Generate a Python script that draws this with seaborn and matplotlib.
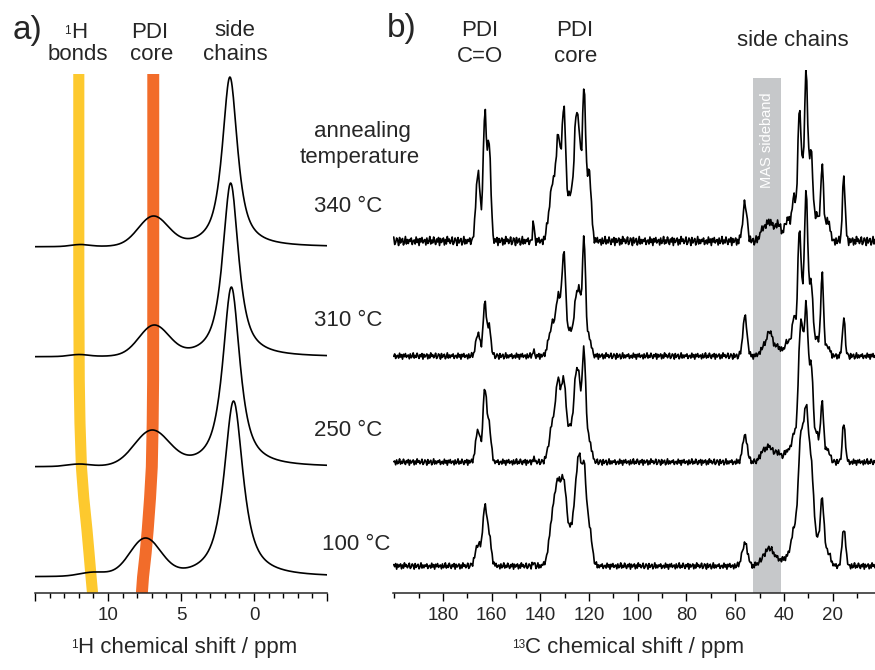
import numpy as np
import matplotlib
matplotlib.use("Agg")
import matplotlib.pyplot as plt
from matplotlib.ticker import MultipleLocator, FixedLocator
import seaborn as sns

# ---- data (heights in px above each trace's baseline) ----
temps = ["340 °C", "310 °C", "250 °C", "100 °C"]

# panel a: 1H spectra, three lines each
h1_side_ppm = [1.65, 1.6, 1.55, 1.4]
h1_side_height = [170, 174, 180, 176]
h1_side_fwhm = [1.25, 1.3, 1.4, 1.55]
h1_core_ppm = [6.9, 6.85, 7.0, 7.45]
h1_core_height = [31, 32, 37, 39]
h1_core_fwhm = [2.4, 2.4, 2.8, 2.5]
h1_hb_ppm = [11.9, 12.0, 12.0, 11.0]
h1_hb_height = [2.5, 2.5, 3, 5]
h1_hb_fwhm = [1.5, 1.5, 1.8, 2.2]
h1_offsets = [346, 236, 126, 16]

# guide bands in panel a: (height, ppm) along the band
band_y = [519, 300, 213, 170, 126, 95, 63, 40, 16, 0]
hbond_band_ppm = [12.0, 12.0, 11.97, 11.92, 11.82, 11.66, 11.44, 11.3, 11.16, 11.06]
core_band_ppm = [6.9, 6.9, 6.91, 6.94, 7.0, 7.12, 7.28, 7.42, 7.6, 7.68]

# panel b: 13C spectra, peak list shared, heights per temperature
c13_ppm = [165.6, 162.8, 161.0, 142.8, 136.5, 134.8, 132.7, 130.4, 127.6,
           125.4, 124.0, 122.1, 120.0, 56.0, 48.5, 45.8, 42.5, 38.5, 35.8,
           33.7, 32.6, 30.9, 28.8, 26.4, 24.3, 22.0, 15.4]
c13_fwhm = [2.0, 1.6, 1.6, 0.8, 2.2, 2.2, 2.0, 2.0, 2.6,
            1.8, 1.6, 1.6, 2.0, 2.0, 2.8, 2.8, 2.8, 2.8, 2.0,
            1.5, 1.4, 1.7, 1.8, 1.8, 1.4, 2.0, 1.3]
c13_h_340 = [70, 131, 100, 19, 30, 62, 108, 134, 50,
             126, 112, 156, 72, 38, 14, 20, 18, 22, 45,
             131, 86, 170, 91, 28, 78, 22, 65]
c13_h_310 = [23, 54, 30, 5, 18, 35, 62, 104, 27,
             60, 68, 120, 20, 40, 10, 25, 10, 15, 40,
             128, 78, 167, 76, 19, 82, 10, 38]
c13_h_250 = [32, 75, 40, 3, 20, 45, 85, 85, 38,
             90, 85, 114, 25, 27, 12, 15, 10, 12, 30,
             115, 140, 160, 100, 29, 60, 12, 39]
c13_h_100 = [22, 60, 34, 3, 25, 60, 88, 88, 40,
             85, 112, 105, 45, 23, 10, 18, 8, 11, 40,
             110, 140, 163, 110, 30, 68, 15, 38]
c13_broadening = [1.0, 1.0, 1.1, 1.3]
c13_offsets = [352, 237, 131, 27]
c13_noise = [5.0, 3.5, 3.5, 3.5]
noise_shift = [0, 17, 31, 44]
ripple = [0.3, -0.6, 0.9, -0.2, -0.8, 0.5, 0.1, -0.4, 0.7, -0.9,
          0.2, 0.6, -0.3, -0.7, 0.8, 0.0, -0.5, 0.4, -0.1, 0.9,
          -0.6, 0.3, -0.8, 0.6, 0.1, -0.3, 0.5, -0.9, 0.7, -0.2,
          0.4, -0.7, 0.0, 0.8, -0.4, 0.2, -0.6, 0.9, -0.1, -0.5,
          0.6, -0.8, 0.3, 0.1, -0.4, 0.7, -0.2, 0.5, -0.9, 0.4,
          -0.3, 0.8, -0.6, 0.2, 0.0, -0.7, 0.6, -0.1, 0.3, -0.5]


def shape(x, c, w, eta):
    u = (x - c) / w
    return eta / (1 + 4 * u**2) + (1 - eta) * np.exp(-4 * np.log(2) * u**2)


def spectrum(x, centers, heights, widths, eta):
    # amplitudes chosen so the trace passes through the read heights
    c = np.asarray(centers, float)
    w = np.asarray(widths, float)
    e = np.asarray(eta, float)
    m = shape(c[:, None], c[None, :], w[None, :], e[None, :])
    amp = np.linalg.solve(m, np.asarray(heights, float))
    return (shape(x[:, None], c[None, :], w[None, :], e[None, :]) * amp).sum(1)


sns.set_style("ticks")
plt.rcParams["font.family"] = ["Liberation Sans", "DejaVu Sans"]

W, H = 875, 670
fig = plt.figure(figsize=(W / 100, H / 100), dpi=100)
ax_a = fig.add_axes([35 / W, 77 / H, 292 / W, 523 / H])
ax_b = fig.add_axes([393 / W, 77 / H, 482 / W, 523 / H])

# ---- panel a ----
x_h = np.linspace(-5, 15, 500)
for i in range(4):
    y = spectrum(x_h,
                 [h1_side_ppm[i], h1_core_ppm[i], h1_hb_ppm[i]],
                 [h1_side_height[i], h1_core_height[i], h1_hb_height[i]],
                 [h1_side_fwhm[i], h1_core_fwhm[i], h1_hb_fwhm[i]],
                 [0.85, 0.0, 0.0])
    sns.lineplot(x=x_h, y=h1_offsets[i] + y, ax=ax_a, color="black",
                 linewidth=1.2, sort=False, zorder=3)

ax_a.plot(hbond_band_ppm, band_y, color="#FDC92E", lw=8.0,
          solid_capstyle="butt", solid_joinstyle="round", zorder=1)
ax_a.plot(core_band_ppm, band_y, color="#F26C2A", lw=8.6,
          solid_capstyle="butt", solid_joinstyle="round", zorder=2)

ax_a.set_xlim(15, -5)
ax_a.set_ylim(0, 523)
ax_a.xaxis.set_major_locator(FixedLocator([15, 10, 5, 0, -5]))
ax_a.set_xticklabels(["", "10", "5", "0", ""])
ax_a.xaxis.set_minor_locator(MultipleLocator(1))
ax_a.set_xlabel("H chemical shift / ppm", fontsize=16)
ax_a.xaxis.set_label_coords((188 - 35) / 292, -0.085)

# ---- panel b ----
x_c = np.arange(2.6, 200.6, 0.4)
heights_c = [c13_h_340, c13_h_310, c13_h_250, c13_h_100]
for i in range(4):
    y = spectrum(x_c, c13_ppm, heights_c[i],
                 np.asarray(c13_fwhm) * c13_broadening[i],
                 np.zeros(len(c13_ppm)))
    wiggle = np.resize(np.roll(ripple, noise_shift[i]), len(x_c)) * c13_noise[i]
    sns.lineplot(x=x_c, y=c13_offsets[i] + y + wiggle, ax=ax_b,
                 color="black", linewidth=1.2, sort=False, zorder=3)

ax_b.axvspan(41.3, 52.8, ymin=0, ymax=515 / 523, color="#C6C8CA", lw=0, zorder=0)
ax_b.text(47.05, 453, "MAS sideband", rotation=90, color="white",
          ha="center", va="center", fontsize=10.5, zorder=1)

ax_b.set_xlim(200.5, 2.6)
ax_b.set_ylim(0, 523)
ax_b.xaxis.set_major_locator(FixedLocator(list(range(180, 0, -20))))
ax_b.xaxis.set_minor_locator(MultipleLocator(10))
ax_b.set_xlabel("C chemical shift / ppm", fontsize=16)
ax_b.xaxis.set_label_coords((635 - 393) / 482, -0.085)

for ax in (ax_a, ax_b):
    sns.despine(ax=ax, left=True)
    ax.set_yticks([])
    ax.set_ylabel("")
    ax.patch.set_alpha(0)
    ax.spines["bottom"].set_linewidth(1.1)
    ax.tick_params(axis="x", which="major", length=6, width=1.0,
                   labelsize=13.5, pad=4, direction="out", color="black")
    ax.tick_params(axis="x", which="minor", length=3.5, width=1.0,
                   direction="out", color="black")


def put(x, y, s, **kw):
    kw.setdefault("ha", "center")
    kw.setdefault("va", "center")
    return fig.text(x / W, 1 - y / H, s, **kw)


put(27, 30, "a)", fontsize=24)
h_top = put(79, 33, "H", fontsize=16)
put(78, 55, "bonds", fontsize=16)
put(150, 32, "PDI", fontsize=16)
put(152, 55, "core", fontsize=16)
put(235, 31, "side", fontsize=16)
put(235, 55, "chains", fontsize=16)

put(402, 28, "b)", fontsize=24)
put(480, 31, "PDI", fontsize=16)
put(480, 56, "C=O", fontsize=16)
put(575, 31, "PDI", fontsize=16)
put(576, 56, "core", fontsize=16)
put(793, 40, "side chains", fontsize=16)

put(362, 132, "annealing", fontsize=16)
put(360, 157, "temperature", fontsize=16)
for t, yy, xx in zip(temps, [207, 320, 431, 544], [348, 348, 348, 356]):
    put(xx, yy, t, fontsize=16)

# small superscripts placed just left of the text they belong to
fig.canvas.draw()
renderer = fig.canvas.get_renderer()
for txt, sup in [(h_top, "1"), (ax_a.xaxis.label, "1"), (ax_b.xaxis.label, "13")]:
    bb = txt.get_window_extent(renderer)
    fig.text((bb.x0 - 0.5) / W, (bb.y1 - 2) / H, sup, fontsize=8.5,
             ha="right", va="top")

fig.savefig("out.png", dpi=100)
